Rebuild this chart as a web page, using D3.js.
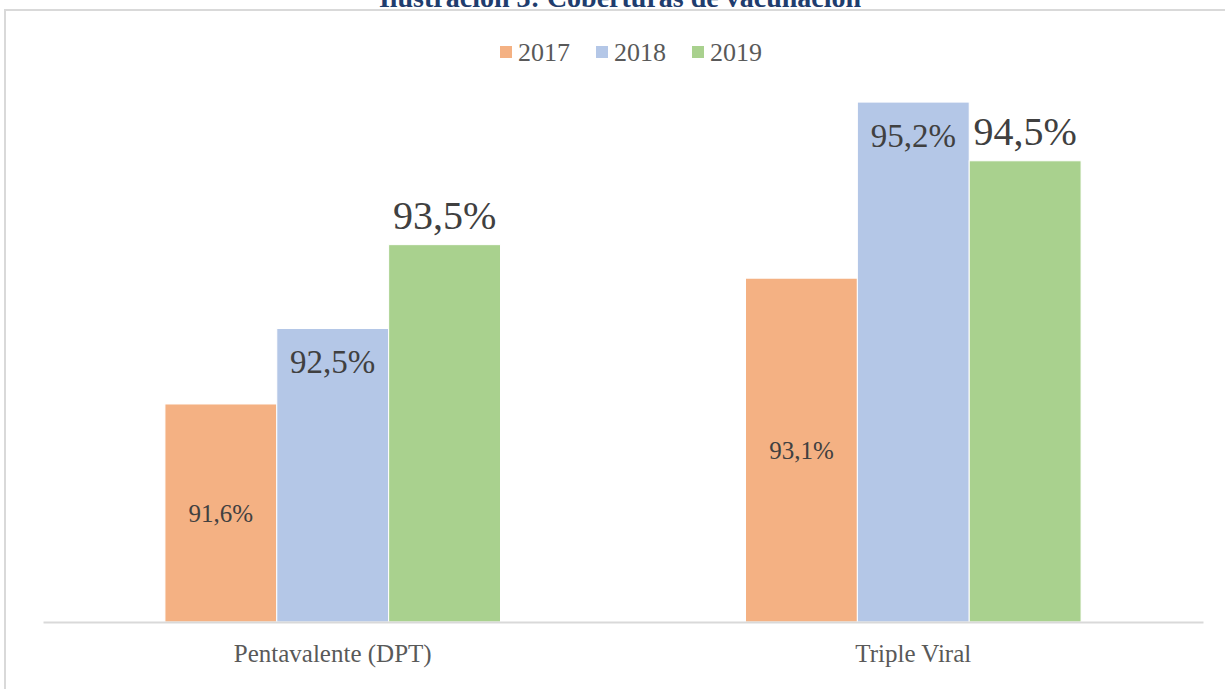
<!DOCTYPE html>
<html>
<head>
<meta charset="utf-8">
<script src="https://cdn.jsdelivr.net/npm/d3@7"></script>
<style>
  body { margin: 0; background: #fff; }
  text { font-family: "Liberation Serif", "DejaVu Serif", serif; }
</style>
</head>
<body>
<svg id="chart"></svg>
<script>
const categories = ["Pentavalente (DPT)", "Triple Viral"];
const years = ["2017", "2018", "2019"];
const values2017 = [91.6, 93.1];
const values2018 = [92.5, 95.2];
const values2019 = [93.5, 94.5];
const colors = ["#f4b183", "#b4c7e7", "#a9d18e"];
const labelSizes = [25, 33, 40]; // label size grows with the year in the source

const width = 1225, height = 689;
const margin = { top: 35, right: 22, bottom: 67, left: 43 };

const svg = d3.select("#chart")
  .attr("width", width)
  .attr("height", height);

const series = [values2017, values2018, values2019];
const data = [];
categories.forEach((c, i) => {
  years.forEach((y, j) => data.push({ cat: c, year: y, idx: j, value: series[j][i] }));
});

// frame (top + left edge of the figure box)
svg.append("path")
  .attr("d", `M5,${height} L5,10 L${width},10`)
  .attr("fill", "none")
  .attr("stroke", "#d9d9d9")
  .attr("stroke-width", 2);

// title, clipped by the top of the page like in the source
svg.append("text")
  .attr("x", 620)
  .attr("y", 7)
  .attr("text-anchor", "middle")
  .attr("font-size", 28)
  .attr("font-weight", "bold")
  .attr("fill", "#1f3d6e")
  .text("Ilustración 3: Coberturas de vacunación");

const x0 = d3.scaleBand()
  .domain(categories)
  .range([margin.left, width - margin.right])
  .paddingInner(0.422)
  .paddingOuter(0.21);

const x1 = d3.scaleBand()
  .domain(years)
  .range([0, x0.bandwidth()]);

const y = d3.scaleLinear()
  .domain([89, 96])
  .range([height - margin.bottom, margin.top]);

const g = svg.append("g");

g.selectAll("rect")
  .data(data)
  .join("rect")
  .attr("x", d => x0(d.cat) + x1(d.year))
  .attr("y", d => y(d.value))
  .attr("width", x1.bandwidth())
  .attr("height", d => y(89) - y(d.value))
  .attr("fill", d => colors[d.idx])
  .attr("stroke", "#fff")
  .attr("stroke-width", 1);

// data labels: 2017 centred, 2018 inside end, 2019 outside end
g.selectAll("text.lbl")
  .data(data)
  .join("text")
  .attr("class", "lbl")
  .attr("x", d => x0(d.cat) + x1(d.year) + x1.bandwidth() / 2)
  .attr("y", d => {
    if (d.idx === 0) return (y(d.value) + y(89)) / 2;
    if (d.idx === 1) return y(d.value) + 33;
    return y(d.value) - 30;
  })
  .attr("dy", "0.35em")
  .attr("text-anchor", "middle")
  .attr("font-size", d => labelSizes[d.idx])
  .attr("fill", "#404040")
  .text(d => d3.format(".1f")(d.value).replace(".", ",") + "%");

// category axis
const xAxis = d3.axisBottom(x0).tickSize(0).tickPadding(22);
const axisG = svg.append("g")
  .attr("transform", `translate(0,${y(89)})`)
  .call(xAxis);
axisG.select(".domain").attr("stroke", "#d9d9d9").attr("stroke-width", 2);
axisG.selectAll("text")
  .attr("font-size", 25)
  .attr("fill", "#595959")
  .style("font-family", "'Liberation Serif', serif");

// legend
const legendX = [500, 596, 692];
const legend = svg.append("g");
years.forEach((yr, i) => {
  legend.append("rect")
    .attr("x", legendX[i])
    .attr("y", 46)
    .attr("width", 12)
    .attr("height", 12)
    .attr("fill", colors[i]);
  legend.append("text")
    .attr("x", legendX[i] + 18)
    .attr("y", 52)
    .attr("dy", "0.35em")
    .attr("font-size", 26)
    .attr("fill", "#595959")
    .text(yr);
});
</script>
</body>
</html>
